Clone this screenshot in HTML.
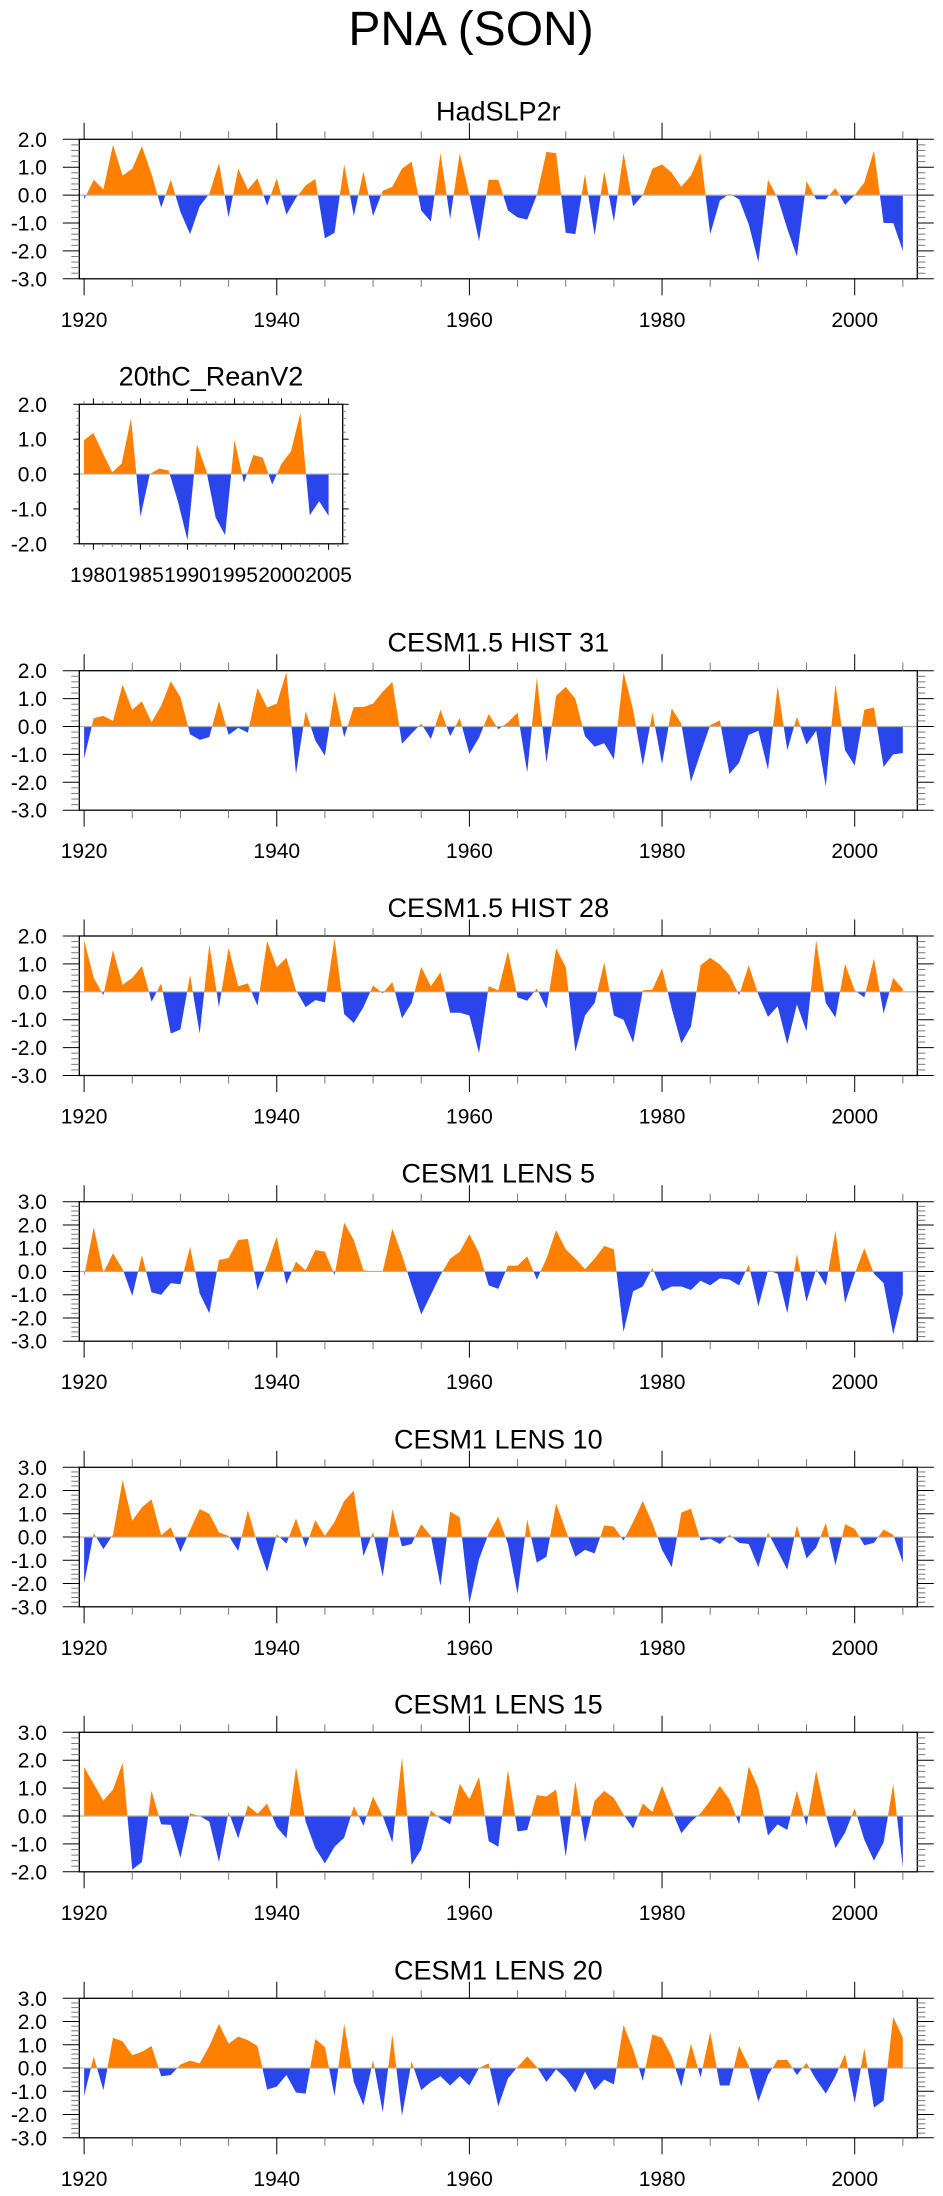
<!DOCTYPE html>
<html><head><meta charset="utf-8"><style>
html,body{margin:0;padding:0;background:#fff;}
svg{display:block;font-family:"Liberation Sans",Arial,sans-serif;}
</style></head><body>
<svg id="chart" width="943" height="2196" viewBox="0 0 943 2196" xmlns="http://www.w3.org/2000/svg">
<text x="471" y="45" font-size="48" text-anchor="middle">PNA (SON)</text>
</svg>
<script>
const startYear = 1920;
const reanStartYear = 1979;
const hadslp = [-0.15,0.55,0.2,1.8,0.7,0.95,1.75,0.75,-0.45,0.55,-0.6,-1.4,-0.4,0.05,1.15,-0.8,0.95,0.2,0.6,-0.38,0.6,-0.7,-0.1,0.35,0.58,-1.55,-1.35,1.1,-0.75,0.85,-0.75,0.15,0.3,0.95,1.2,-0.55,-0.95,1.5,-0.85,1.5,0.0,-1.65,0.55,0.55,-0.55,-0.8,-0.88,0.0,1.55,1.5,-1.35,-1.4,0.75,-1.45,0.85,-0.95,1.5,-0.4,0.0,0.95,1.1,0.8,0.3,0.7,1.5,-1.4,-0.2,0.05,-0.15,-1.05,-2.4,0.55,-0.1,-1.2,-2.2,0.5,-0.15,-0.15,0.25,-0.35,0.0,0.45,1.6,-1.0,-1.0,-2.0];
const rean = [0.97,1.18,0.6,0.05,0.3,1.6,-1.22,0.0,0.16,0.1,-0.8,-1.9,0.85,0.1,-1.25,-1.75,0.98,-0.25,0.55,0.47,-0.3,0.3,0.65,1.75,-1.18,-0.78,-1.2];
const hist31 = [-1.15,0.3,0.38,0.2,1.5,0.6,0.9,0.15,0.75,1.62,1.05,-0.28,-0.48,-0.38,0.92,-0.3,-0.05,-0.22,1.38,0.68,0.82,1.95,-1.7,0.55,-0.5,-1.05,1.25,-0.38,0.7,0.7,0.82,1.25,1.6,-0.62,-0.25,0.1,-0.45,0.6,-0.35,0.3,-0.98,-0.4,0.45,-0.1,0.15,0.5,-1.65,1.75,-1.3,1.1,1.42,1.0,-0.35,-0.72,-0.6,-1.18,1.95,0.6,-1.4,0.5,-1.35,0.65,0.1,-1.98,-0.95,0.05,0.22,-1.7,-1.3,-0.3,-0.15,-1.55,1.45,-0.85,0.35,-0.65,-0.15,-2.15,1.52,-0.85,-1.4,0.6,0.68,-1.45,-1.0,-0.95];
const hist28 = [1.85,0.5,-0.12,1.5,0.25,0.5,0.92,-0.35,0.3,-1.5,-1.35,0.6,-1.5,1.7,-0.55,1.58,0.2,0.3,-0.5,1.82,0.88,1.22,0.05,-0.55,-0.3,-0.38,1.92,-0.8,-1.12,-0.55,0.22,-0.05,0.35,-0.95,-0.4,0.9,0.2,0.7,-0.75,-0.75,-0.85,-2.2,0.2,0.05,1.45,-0.2,-0.32,0.12,-0.6,1.55,0.9,-2.15,-0.85,-0.4,1.05,-0.85,-1.0,-1.82,0.05,0.08,0.85,-0.6,-1.85,-1.25,0.95,1.22,0.98,0.6,-0.12,0.95,-0.1,-0.9,-0.52,-1.88,-0.45,-1.42,1.85,-0.4,-0.92,1.0,0.05,-0.2,1.2,-0.78,0.5,0.1];
const lens5 = [-0.2,1.9,-0.05,0.78,0.1,-1.05,0.7,-0.9,-1.0,-0.5,-0.55,1.05,-0.95,-1.8,0.5,0.58,1.35,1.4,-0.8,0.3,1.5,-0.55,0.42,0.05,0.92,0.85,-0.15,2.1,1.35,0.05,0.0,0.0,1.85,0.7,-0.6,-1.85,-1.0,-0.15,0.55,0.85,1.6,0.8,-0.6,-0.75,0.25,0.25,0.65,-0.35,0.55,1.78,0.95,0.55,0.1,0.55,1.1,0.95,-2.6,-0.85,-0.65,0.15,-0.85,-0.65,-0.65,-0.8,-0.4,-0.6,-0.3,-0.35,-0.6,0.3,-1.5,0.05,-0.1,-1.8,0.75,-1.3,0.1,-0.6,1.75,-1.35,-0.1,1.0,-0.1,-0.5,-2.7,-1.0];
const lens10 = [-2.0,0.18,-0.52,0.1,2.45,0.7,1.28,1.62,0.08,0.42,-0.65,0.3,1.2,1.0,0.2,0.05,-0.6,1.15,-0.3,-1.5,0.12,-0.28,0.8,-0.45,0.72,0.05,0.65,1.55,2.0,-0.82,0.22,-1.7,1.2,-0.4,-0.3,0.55,0.05,-2.1,1.1,0.85,-2.85,-0.95,0.15,0.88,-0.3,-2.45,0.75,-1.1,-0.85,1.45,0.3,-0.85,-0.55,-0.7,0.5,0.45,-0.15,0.65,1.55,0.6,-0.55,-1.3,1.05,1.22,-0.15,-0.07,-0.3,0.1,-0.25,-0.3,-1.3,0.2,-0.6,-1.4,0.5,-0.92,-0.45,0.6,-1.22,0.55,0.35,-0.35,-0.25,0.32,0.1,-1.1];
const lens15 = [1.75,1.15,0.55,0.95,1.9,-1.92,-1.65,0.9,-0.3,-0.32,-1.5,0.1,0.0,-0.2,-1.65,0.15,-0.8,0.38,0.08,0.45,-0.4,-0.8,1.75,-0.2,-1.15,-1.7,-1.1,-0.78,0.35,-0.35,0.7,0.0,-0.95,2.1,-1.75,-1.2,0.2,-0.1,-0.3,1.15,0.6,1.4,-0.9,-1.1,1.65,-0.55,-0.5,0.75,0.7,0.95,-1.45,1.25,-0.95,0.55,0.9,0.65,0.05,-0.45,0.45,0.15,1.08,0.2,-0.62,-0.2,0.1,0.55,1.08,0.6,-0.3,1.78,1.0,-0.7,-0.3,-0.5,0.9,-0.35,1.62,0.05,-1.15,-0.6,0.28,-0.85,-1.6,-0.95,1.15,-1.85];
const lens20 = [-1.2,0.5,-0.95,1.3,1.15,0.55,0.7,0.95,-0.35,-0.3,0.15,0.32,0.2,0.95,1.9,1.05,1.35,1.2,0.95,-0.92,-0.8,-0.3,-1.05,-1.1,1.25,0.9,-1.2,1.9,-0.6,-1.6,0.35,-1.9,1.45,-2.05,0.28,-0.95,-0.6,-0.35,-0.75,-0.35,-0.75,0.0,0.2,-1.65,-0.45,0.05,0.5,0.05,-0.6,-0.05,-0.45,-1.05,-0.15,-0.95,-0.5,-0.7,1.85,0.8,-0.55,1.45,1.3,0.5,-0.8,1.05,-0.4,1.55,-0.75,-0.75,0.95,0.1,-1.45,-0.3,0.35,0.35,-0.3,0.22,-0.5,-1.1,-0.35,0.6,-1.5,0.85,-1.7,-1.4,2.2,1.3];
const yTicksA = ["2.0","1.0","0.0","-1.0","-2.0","-3.0"];
const yTicksB = ["3.0","2.0","1.0","0.0","-1.0","-2.0","-3.0"];
const yTicksC = ["3.0","2.0","1.0","0.0","-1.0","-2.0"];
const yTicksR = ["2.0","1.0","0.0","-1.0","-2.0"];
const xTickLabels = ["1920","1940","1960","1980","2000"];
const xTickLabelsR = ["1980","1985","1990","1995","2000","2005"];

const NS = "http://www.w3.org/2000/svg";
const svg = document.getElementById('chart');
function mk(tag, attrs, parent){
  const e = document.createElementNS(NS, tag);
  for (const k in attrs) e.setAttribute(k, attrs[k]);
  (parent||svg).appendChild(e);
  return e;
}
let pid = 0;
function panel(o){
  pid++;
  const g = mk('g', {});
  
  
  const L=o.left,R=o.right,T=o.top,B=o.top+139.5;
  const ymax=parseFloat(o.yLabels[0]), ymin=parseFloat(o.yLabels[o.yLabels.length-1]);
  const X = v => L + (v - o.xmin)/(o.xmax - o.xmin)*(R-L);
  const Y = v => T + (ymax - v)/(ymax - ymin)*(B-T);
  const t = mk('text', {x:(L+R)/2, y:T-19, 'font-size':27, 'text-anchor':'middle'}, g);
  t.textContent = o.title;
  
  
  const defs = mk('defs', {}, g);
  const cu = mk('clipPath', {id:'cu'+pid}, defs);
  mk('rect', {x:L, y:T, width:R-L, height:Y(0)-T}, cu);
  const cd = mk('clipPath', {id:'cd'+pid}, defs);
  mk('rect', {x:L, y:Y(0), width:R-L, height:B-Y(0)}, cd);
  let pts = [[X(o.start), Y(0)]];
  o.data.forEach((v,i)=>pts.push([X(o.start+i), Y(v)]));
  pts.push([X(o.start+o.data.length-1), Y(0)]);
  const ps = pts.map(p=>p[0].toFixed(2)+','+p[1].toFixed(2)).join(' ');
  const pu = mk('polygon', {points:ps, fill:'#ff8000', 'clip-path':'url(#cu'+pid+')'}, g);
  
  
  const pd = mk('polygon', {points:ps, fill:'#2a45ec', 'clip-path':'url(#cd'+pid+')'}, g);
  
  
  const zl = mk('line', {x1:L, x2:R, y1:Y(0), y2:Y(0), stroke:'#b0b0b0', 'stroke-width':1.2}, g);
  
  
  const box = mk('rect', {x:L, y:T, width:R-L, height:B-T, fill:'none', stroke:'#000', 'stroke-width':1.3}, g);
  
  
  for (let v=ymin; v<=ymax+1e-6; v+=0.2){
    const major = Math.abs(v-Math.round(v))<1e-6;
    const len = major ? o.maj : o.min;
    mk('line',{x1:L-len,x2:L,y1:Y(v),y2:Y(v),stroke:major?'#000':'#777','stroke-width':1},g);
    mk('line',{x1:R,x2:R+len,y1:Y(v),y2:Y(v),stroke:major?'#000':'#777','stroke-width':1},g);
  }
  o.yLabels.forEach(s=>{
    const tx = mk('text',{x:47,y:Y(parseFloat(s))+7.5,'font-size':21,'text-anchor':'end'},g);
    tx.textContent = s;
    
    
  });
  const first = Math.ceil(o.xmin/o.minorStep)*o.minorStep;
  for (let yr=first; yr<=o.xmax; yr+=o.minorStep){
    const major = yr % o.majorStep === 0;
    const len = major ? o.maj : o.min;
    mk('line',{x1:X(yr),x2:X(yr),y1:B,y2:B+len,stroke:major?'#000':'#777','stroke-width':1},g);
    mk('line',{x1:X(yr),x2:X(yr),y1:T-len,y2:T,stroke:major?'#000':'#777','stroke-width':1},g);
  }
  o.xLabels.forEach(s=>{
    const tx = mk('text',{x:X(parseFloat(s)),y:B+o.lblOff,'font-size':21,'text-anchor':'middle'},g);
    tx.textContent = s;
    
    
  });
}
const W = {left:79.3,right:917.3,xmin:1919.5,xmax:2006.5,start:startYear,minorStep:5,majorStep:20,maj:16.5,min:8,xLabels:xTickLabels,lblOff:48};
panel(Object.assign({},W,{name:'hadslp2r',title:'HadSLP2r',top:139.3,data:hadslp,yLabels:yTicksA}));
panel({name:'reanv2',title:'20thC_ReanV2',left:79.3,right:342.7,xmin:1978.5,xmax:2006.5,start:reanStartYear,minorStep:1,majorStep:5,maj:6,min:3,top:404.3,data:rean,yLabels:yTicksR,xLabels:xTickLabelsR,lblOff:38});
panel(Object.assign({},W,{name:'hist31',title:'CESM1.5 HIST 31',top:670.7,data:hist31,yLabels:yTicksA}));
panel(Object.assign({},W,{name:'hist28',title:'CESM1.5 HIST 28',top:936,data:hist28,yLabels:yTicksA}));
panel(Object.assign({},W,{name:'lens5',title:'CESM1 LENS 5',top:1201.7,data:lens5,yLabels:yTicksB}));
panel(Object.assign({},W,{name:'lens10',title:'CESM1 LENS 10',top:1467.3,data:lens10,yLabels:yTicksB}));
panel(Object.assign({},W,{name:'lens15',title:'CESM1 LENS 15',top:1732.3,data:lens15,yLabels:yTicksC}));
panel(Object.assign({},W,{name:'lens20',title:'CESM1 LENS 20',top:1998.3,data:lens20,yLabels:yTicksB}));
</script>
</body></html>
